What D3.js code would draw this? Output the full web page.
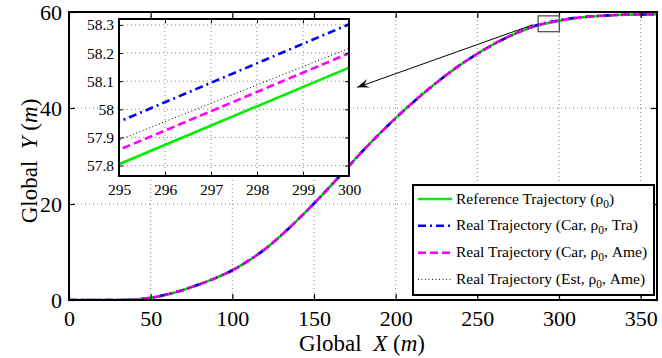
<!DOCTYPE html>
<html>
<head>
<meta charset="utf-8">
<script src="https://cdn.jsdelivr.net/npm/d3@7"></script>
<style>
  body { margin: 0; background: #fff; }
  svg { display: block; }
  svg text { font-family: "Liberation Serif", "Times New Roman", Times, serif !important; fill: #000; }
</style>
</head>
<body>
<svg id="chart" width="662" height="358"></svg>
<script>
// ---------------- data ----------------
const xs = [0,10,20,30,40,50,60,70,80,90,100,110,120,130,140,150,160,170,180,190,200,210,220,230,240,250,260,270,280,290,295,300,310,320,330,340,350,360];
const yRef    = [0,0,0,0,0.1,0.45,1.15,2.1,3.3,4.6,6.2,8.2,10.6,13.5,16.7,20.1,23.7,27.4,31.1,34.6,37.9,41.0,43.9,46.6,49.1,51.3,53.3,55.0,56.4,57.45,57.805,58.148,58.7,59.05,59.28,59.42,59.48,59.5];
const yCarTra = [0,0,0,0,0.1,0.45,1.15,2.1,3.3,4.6,6.2,8.2,10.6,13.5,16.7,20.1,23.7,27.4,31.1,34.6,37.9,41.0,43.9,46.6,49.1,51.3,53.3,55.0,56.5,57.6,57.956,58.302,58.8,59.1,59.3,59.43,59.48,59.5];
const yCarAme = [0,0,0,0,0.1,0.45,1.15,2.1,3.3,4.6,6.2,8.2,10.6,13.5,16.7,20.1,23.7,27.4,31.1,34.6,37.9,41.0,43.9,46.6,49.1,51.3,53.3,55.0,56.45,57.5,57.856,58.199,58.74,59.07,59.29,59.42,59.48,59.5];
const yEstAme = [0,0,0,0,0.1,0.45,1.15,2.1,3.3,4.6,6.2,8.2,10.6,13.5,16.7,20.1,23.7,27.4,31.1,34.6,37.9,41.0,43.9,46.6,49.1,51.3,53.3,55.0,56.45,57.53,57.891,58.217,58.75,59.07,59.29,59.42,59.48,59.5];

const seriesNames = ["Reference Trajectory (\u03C1", "Real Trajectory (Car, \u03C1", "Real Trajectory (Car, \u03C1", "Real Trajectory (Est, \u03C1"];
const seriesTails = [")", ", Tra)", ", Ame)", ", Ame)"];

const xTicks = [0,50,100,150,200,250,300,350];
const yTicks = [0,20,40,60];
const insetXTicks = [295,296,297,298,299,300];
const insetYTicks = [57.8,57.9,58.0,58.1,58.2,58.3];
const insetYLabels = ["57.8","57.9","58","58.1","58.2","58.3"];
const zoomBoxX = [287.2, 300.2];
const zoomBoxY = [55.9, 59.2];
const arrowFrom = [284.1, 57.35];
const arrowTo = [176.5, 44.3];

// ---------------- styles ----------------
const FONT = '"Liberation Serif", "Times New Roman", Times, serif';
const styles = [
  {color: "#00ee00", width: 2.6, dash: null},
  {color: "#0000ff", width: 2.6, dash: "8,4,2,4"},
  {color: "#ff00ff", width: 2.6, dash: "8,4"},
  {color: "#000000", width: 1, dash: "1,2.5"}
];
const series = [yRef, yCarTra, yCarAme, yEstAme];

const svg = d3.select("#chart").style("font-family", FONT);

// main axes
const L = 69, R = 657, T = 12, B = 300;
const x = d3.scaleLinear().domain([0,360]).range([L,R]);
const y = d3.scaleLinear().domain([0,60]).range([B,T]);

svg.append("defs").append("clipPath").attr("id","mainclip")
  .append("rect").attr("x",L).attr("y",T).attr("width",R-L).attr("height",B-T);

// grid
const grid = svg.append("g").attr("stroke","#888").attr("stroke-width",1).attr("stroke-dasharray","1,3");
xTicks.filter(t => t>0 && t<360).forEach(t => grid.append("line").attr("x1",x(t)).attr("x2",x(t)).attr("y1",T).attr("y2",B));
yTicks.filter(t => t>0 && t<60).forEach(t => grid.append("line").attr("x1",L).attr("x2",R).attr("y1",y(t)).attr("y2",y(t)));

// curves
const mainG = svg.append("g").attr("clip-path","url(#mainclip)");
const lineMain = d3.line().x((d,i)=>x(xs[i])).y(d=>y(d)).curve(d3.curveMonotoneX);
series.forEach((s,k) => {
  mainG.append("path").attr("d", lineMain(s)).attr("fill","none")
    .attr("stroke",styles[k].color).attr("stroke-width",styles[k].width)
    .attr("stroke-dasharray",styles[k].dash);
});

// axes via d3
const xAxisB = d3.axisBottom(x).tickValues(xTicks).tickSizeInner(-6).tickSizeOuter(0).tickPadding(10.5);
const xAxisT = d3.axisTop(x).tickValues(xTicks).tickSizeInner(-6).tickSizeOuter(0).tickFormat("");
const yAxisL = d3.axisLeft(y).tickValues(yTicks).tickSizeInner(-6).tickSizeOuter(0).tickPadding(7);
const yAxisR = d3.axisRight(y).tickValues(yTicks).tickSizeInner(-6).tickSizeOuter(0).tickFormat("");
function styleAxis(g){ g.attr("font-family", null); g.select(".domain").remove(); g.selectAll("line").attr("stroke","#000").attr("stroke-width",1.2);
  g.selectAll("text").style("font-family",FONT).attr("font-size",22).attr("fill","#000"); }
svg.append("g").attr("transform",`translate(0,${B})`).call(xAxisB).call(styleAxis);
svg.append("g").attr("transform",`translate(0,${T})`).call(xAxisT).call(styleAxis);
svg.append("g").attr("transform",`translate(${L},0)`).call(yAxisL).call(styleAxis);
svg.append("g").attr("transform",`translate(${R},0)`).call(yAxisR).call(styleAxis);
svg.append("rect").attr("x",L).attr("y",T).attr("width",R-L).attr("height",B-T)
  .attr("fill","none").attr("stroke","#000").attr("stroke-width",2);

// axis labels
const xl = svg.append("text").attr("x",362).attr("y",351).attr("text-anchor","middle").attr("font-size",23);
xl.append("tspan").text("Global\u00A0\u00A0");
xl.append("tspan").attr("font-style","italic").text("X");
xl.append("tspan").text(" (");
xl.append("tspan").attr("font-style","italic").text("m");
xl.append("tspan").text(")");
const yl = svg.append("text").attr("transform",`translate(37,161) rotate(-90)`).attr("text-anchor","middle").attr("font-size",23);
yl.append("tspan").text("Global\u00A0\u00A0");
yl.append("tspan").attr("font-style","italic").text("Y");
yl.append("tspan").text(" (");
yl.append("tspan").attr("font-style","italic").text("m");
yl.append("tspan").text(")");

// legend
const lg = svg.append("g");
lg.append("rect").attr("x",413).attr("y",185).attr("width",241).attr("height",110)
  .attr("fill","#fff").attr("stroke","#000").attr("stroke-width",2);
const rowY = [199, 225.7, 252.7, 279.3];
series.forEach((s,k) => {
  lg.append("line").attr("x1",418).attr("x2",452).attr("y1",rowY[k]).attr("y2",rowY[k])
    .attr("stroke",styles[k].color).attr("stroke-width",styles[k].width)
    .attr("stroke-dasharray",styles[k].dash);
  const t = lg.append("text").attr("x",456).attr("y",rowY[k]+4.5).attr("font-size",15.5);
  t.append("tspan").text(seriesNames[k]);
  t.append("tspan").attr("font-size",11.5).attr("dy",4).text("0");
  t.append("tspan").attr("dy",-4).text(seriesTails[k]);
});

// zoom box
svg.append("rect").attr("x",x(zoomBoxX[0])).attr("y",y(zoomBoxY[1]))
  .attr("width",x(zoomBoxX[1])-x(zoomBoxX[0])).attr("height",y(zoomBoxY[0])-y(zoomBoxY[1]))
  .attr("fill","none").attr("stroke","#555").attr("stroke-width",1.3);

// inset
const iL = 119, iR = 349, iT = 19, iB = 176;
const xi = d3.scaleLinear().domain([295,300]).range([iL,iR]);
const yi = d3.scaleLinear().domain([57.763,58.321]).range([iB,iT]);
svg.append("rect").attr("x",iL).attr("y",iT).attr("width",iR-iL).attr("height",iB-iT).attr("fill","#fff");
svg.select("defs").append("clipPath").attr("id","insetclip")
  .append("rect").attr("x",iL).attr("y",iT).attr("width",iR-iL).attr("height",iB-iT);
const ig = svg.append("g").attr("stroke","#888").attr("stroke-width",1).attr("stroke-dasharray","1,3");
insetXTicks.filter(t=>t>295&&t<300).forEach(t => ig.append("line").attr("x1",xi(t)).attr("x2",xi(t)).attr("y1",iT).attr("y2",iB));
insetYTicks.forEach(t => ig.append("line").attr("x1",iL).attr("x2",iR).attr("y1",yi(t)).attr("y2",yi(t)));
const insetG = svg.append("g").attr("clip-path","url(#insetclip)");
const lineInset = d3.line().x((d,i)=>xi(xs[i])).y(d=>yi(d));
series.forEach((s,k) => {
  insetG.append("path").attr("d", lineInset(s)).attr("fill","none")
    .attr("stroke",styles[k].color).attr("stroke-width",styles[k].width)
    .attr("stroke-dasharray",styles[k].dash);
});
function styleInset(g){ g.attr("font-family", null); g.select(".domain").remove(); g.selectAll("line").attr("stroke","#000").attr("stroke-width",1);
  g.selectAll("text").style("font-family",FONT).attr("font-size",15.5).attr("fill","#000"); }
svg.append("g").attr("transform",`translate(0,${iB})`).call(d3.axisBottom(xi).tickValues(insetXTicks).tickSizeInner(-4).tickSizeOuter(0).tickPadding(8).tickFormat(d3.format("d"))).call(styleInset);
svg.append("g").attr("transform",`translate(0,${iT})`).call(d3.axisTop(xi).tickValues(insetXTicks).tickSizeInner(-4).tickSizeOuter(0).tickFormat("")).call(styleInset);
svg.append("g").attr("transform",`translate(${iL},0)`).call(d3.axisLeft(yi).tickValues(insetYTicks).tickSizeInner(-4).tickSizeOuter(0).tickPadding(5).tickFormat((d,i)=>insetYLabels[i])).call(styleInset);
svg.append("g").attr("transform",`translate(${iR},0)`).call(d3.axisRight(yi).tickValues(insetYTicks).tickSizeInner(-4).tickSizeOuter(0).tickFormat("")).call(styleInset);
svg.append("rect").attr("x",iL).attr("y",iT).attr("width",iR-iL).attr("height",iB-iT)
  .attr("fill","none").attr("stroke","#000").attr("stroke-width",2);

// arrow
const ax0 = x(arrowFrom[0]), ay0 = y(arrowFrom[1]), ax1 = x(arrowTo[0]), ay1 = y(arrowTo[1]);
svg.append("line").attr("x1",ax0).attr("y1",ay0).attr("x2",ax1).attr("y2",ay1).attr("stroke","#000").attr("stroke-width",1);
const ang = Math.atan2(ay1-ay0, ax1-ax0);
const hl = 12, hw = 4.5;
const p1 = [ax1 - hl*Math.cos(ang) + hw*Math.sin(ang), ay1 - hl*Math.sin(ang) - hw*Math.cos(ang)];
const p2 = [ax1 - hl*Math.cos(ang) - hw*Math.sin(ang), ay1 - hl*Math.sin(ang) + hw*Math.cos(ang)];
const pm = [ax1 - 0.6*hl*Math.cos(ang), ay1 - 0.6*hl*Math.sin(ang)];
svg.append("path").attr("d",`M${ax1},${ay1}L${p1[0]},${p1[1]}L${pm[0]},${pm[1]}L${p2[0]},${p2[1]}Z`).attr("fill","#000");
</script>
</body>
</html>
